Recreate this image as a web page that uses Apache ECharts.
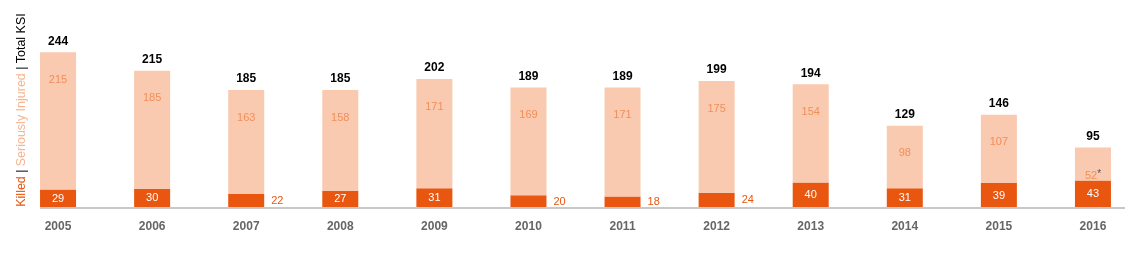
<!DOCTYPE html>
<html><head><meta charset="utf-8">
<script src="https://cdn.jsdelivr.net/npm/echarts@6/dist/echarts.min.js"></script>
<style>html,body{margin:0;padding:0;background:#fff}#c{width:1140px;height:254px}</style>
</head><body><div id="c"></div>
<script>
var years = ['2005','2006','2007','2008','2009','2010','2011','2012','2013','2014','2015','2016'];
var killed = [29,30,22,27,31,20,18,24,40,31,39,43];
var seriouslyInjured = [215,185,163,158,171,169,171,175,154,98,107,52];
var totalKSI = [244,215,185,185,202,189,189,199,194,129,146,95];
var siNotes = ['','','','','','','','','','','','*'];

var ORANGE = '#e8560f', LIGHT = '#f9c9b0', SILABEL = '#f0905a';
var font = 'Arial, "Liberation Sans", sans-serif';

var chart = echarts.init(document.getElementById('c'), null, {renderer:'canvas'});
chart.setOption({
  animation:false,
  grid:{left:11, width:1131, top:16.6, bottom:46, containLabel:false},
  xAxis:{type:'category', data:years, axisLine:{show:false}, axisTick:{show:false},
    axisLabel:{margin:13, color:'#666', fontSize:12, fontWeight:'bold', fontFamily:font}},
  yAxis:{type:'value', min:0, max:300, show:false, splitLine:{show:false}},
  graphic:[
    {type:'rect', shape:{x:40, y:207, width:1085, height:2}, style:{fill:'#c8c8c8'}, z:10},
    {type:'text', x:22, y:110, rotation:Math.PI/2, style:{
      text:'{k|Killed} {b||} {s|Seriously Injured} {b||} {t|Total KSI}',
      align:'center', verticalAlign:'middle', font:'12px '+font,
      rich:{k:{fill:ORANGE, fontSize:12.5, fontFamily:font}, b:{fill:'#000', fontSize:12.5, fontFamily:font},
            s:{fill:'#f7b593', fontSize:12.5, fontFamily:font}, t:{fill:'#000', fontSize:12.5, fontFamily:font}}
    }}
  ],
  series:[
    {name:'Killed', type:'bar', stack:'ksi', barWidth:36, silent:true,
     itemStyle:{color:ORANGE},
     data:killed.map(function(v){
       var out = v < 25;
       return {value:v, label:{show:true, position: out ? 'right' : 'inside', distance:7,
         color: out ? ORANGE : '#fff', fontSize:11, fontFamily:font}};
     })},
    {name:'Seriously Injured', type:'bar', stack:'ksi', barWidth:36, silent:true,
     itemStyle:{color:LIGHT},
     label:{show:true, position:'insideTop', distance:22, color:SILABEL, fontSize:11, fontFamily:font,
       formatter:function(p){return p.value + (siNotes[p.dataIndex] ? '{n|' + siNotes[p.dataIndex] + '}' : '');},
       rich:{n:{color:'#555', fontSize:10, verticalAlign:'top', padding:[0,0,4,0]}}},
     data:seriouslyInjured},
    {name:'Total KSI', type:'bar', barGap:'-100%', barWidth:36, silent:true,
     itemStyle:{color:'rgba(0,0,0,0)'}, z:1,
     label:{show:true, position:'top', distance:5, color:'#000', fontSize:12, fontWeight:'bold', fontFamily:font},
     data:totalKSI}
  ]
});
</script></body></html>
